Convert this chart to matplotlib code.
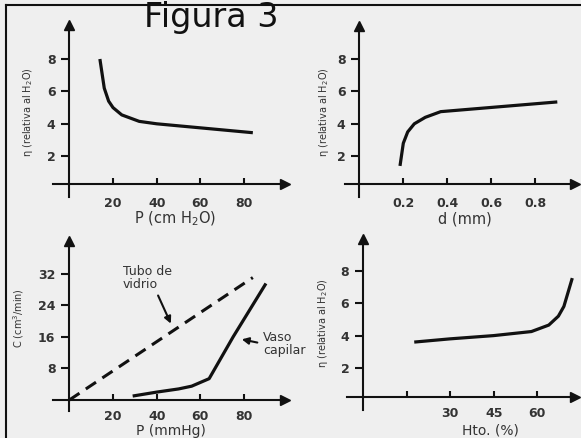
import matplotlib
matplotlib.use("Agg")
import matplotlib.pyplot as plt
from matplotlib.lines import Line2D

W, H = 581, 438
INK = "#111111"
TXT = "#333333"

# panel 1: viscosidad vs presion
p1_x = [14, 16, 18, 20, 24, 32, 40, 60, 84]
p1_y = [8.0, 6.2, 5.4, 5.0, 4.55, 4.15, 4.0, 3.75, 3.45]
p1_xticks = [20, 40, 60, 80]
p1_yticks = [2, 4, 6, 8]

# panel 2: viscosidad vs diametro
p2_x = [0.185, 0.2, 0.22, 0.25, 0.3, 0.37, 0.9]
p2_y = [1.4, 2.8, 3.5, 4.0, 4.4, 4.75, 5.35]
p2_xticks = [0.2, 0.4, 0.6, 0.8]
p2_yticks = [2, 4, 6, 8]

# panel 3: caudal vs presion
p3_tubo_x = [0, 84]
p3_tubo_y = [0, 31]
p3_vaso_x = [29, 40, 50, 56, 64, 75, 90]
p3_vaso_y = [1.0, 2.0, 2.8, 3.5, 5.4, 16, 29.5]
p3_xticks = [20, 40, 60, 80]
p3_yticks = [8, 16, 24, 32]

# panel 4: viscosidad vs hematocrito
p4_x = [17.6, 30, 45, 58, 64, 67.3, 69.2, 72.1]
p4_y = [3.6, 3.8, 4.0, 4.25, 4.65, 5.2, 5.8, 7.55]
p4_xticks = [15, 30, 45, 60]
p4_xticklabels = ["", "30", "45", "60"]
p4_yticks = [2, 4, 6, 8]

fig = plt.figure(figsize=(W / 100, H / 100), dpi=100)
fig.patch.set_facecolor("#efefef")


def px_lims(lo_px, hi_px, zero_px, scale, flip=False):
    if flip:
        return (zero_px - lo_px) / scale, (zero_px - hi_px) / scale
    return (lo_px - zero_px) / scale, (hi_px - zero_px) / scale


def make_panel(box, xmap, ymap, xaxis_at, xpad=9):
    """box = (left, top, right, bottom) in pixels, xmap/ymap = (zero_px, px per unit)."""
    l, t, r, b = box
    ax = fig.add_axes([l / W, 1 - b / H, (r - l) / W, (b - t) / H])
    ax.set_facecolor("none")
    ax.set_xlim(*px_lims(l, r, *xmap))
    ax.set_ylim(*px_lims(b, t, *ymap, flip=True))
    for s in ("top", "right"):
        ax.spines[s].set_visible(False)
    ax.spines["left"].set_position(("data", 0))
    ax.spines["bottom"].set_position(("data", xaxis_at))
    for s in ("left", "bottom"):
        ax.spines[s].set_linewidth(1.5)
        ax.spines[s].set_color(INK)
    ax.tick_params(axis="x", direction="in", length=4, width=1.5, pad=xpad,
                   colors=INK, labelcolor=TXT, labelsize=9)
    ax.tick_params(axis="y", direction="out", length=6, width=1.5, pad=4,
                   colors=INK, labelcolor=TXT, labelsize=9)
    x1 = ax.get_xlim()[1]
    y1 = ax.get_ylim()[1]
    ax.plot([x1], [xaxis_at], marker=">", ms=7, color=INK, clip_on=False)
    ax.plot([0], [y1], marker="^", ms=7, color=INK, clip_on=False)
    return ax


def bold_ticks(ax):
    for lab in ax.get_xticklabels() + ax.get_yticklabels():
        lab.set_fontweight("bold")


ax1 = make_panel((53, 25, 285, 197), (69.3, 2.185), (188.6, 16.2), 0.28)
ax1.plot(p1_x, p1_y, color=INK, lw=2.3, solid_capstyle="butt")
ax1.set_xticks(p1_xticks)
ax1.set_yticks(p1_yticks)
bold_ticks(ax1)

ax2 = make_panel((345, 26, 575, 197), (359.3, 220), (188.6, 16.2), 0.28)
ax2.plot(p2_x, p2_y, color=INK, lw=2.3, solid_capstyle="butt")
ax2.set_xticks(p2_xticks)
ax2.set_yticks(p2_yticks)
bold_ticks(ax2)

ax3 = make_panel((53, 241, 285, 411), (69.3, 2.185), (400, 3.95), 0, xpad=7.5)
ax3.plot(p3_tubo_x, p3_tubo_y, color=INK, lw=2.2, dashes=(4, 2.5))
ax3.plot(p3_vaso_x, p3_vaso_y, color=INK, lw=2.3, solid_capstyle="butt")
ax3.set_xticks(p3_xticks)
ax3.set_yticks(p3_yticks)
bold_ticks(ax3)
ax3.text(24.6, 30.8, "Tubo de\nvidrio", fontsize=9, color=TXT, ha="left",
         va="center", linespacing=1.0)
ax3.annotate("", xy=(47, 18.7), xytext=(40.1, 27.1),
             arrowprops=dict(arrowstyle="-|>", color=INK, lw=1.5, mutation_scale=10))
ax3.text(88.6, 14.3, "Vaso\ncapilar", fontsize=9, color=TXT, ha="left",
         va="center", linespacing=1.0, clip_on=False)
ax3.annotate("", xy=(77.7, 15.5), xytext=(87.3, 14.4),
             arrowprops=dict(arrowstyle="-|>", color=INK, lw=1.5, mutation_scale=10))

ax4 = make_panel((347, 239, 575, 410), (363.2, 2.9), (400.4, 16.2), 0.21, xpad=7.5)
ax4.plot(p4_x, p4_y, color=INK, lw=2.3, solid_capstyle="butt")
ax4.set_xticks(p4_xticks)
ax4.set_xticklabels(p4_xticklabels)
ax4.set_yticks(p4_yticks)
bold_ticks(ax4)


def ftext(x, y, s, **kw):
    fig.text(x / W, 1 - y / H, s, color=TXT, ha="center", va="center", **kw)


eta = "\u03b7 (relativa al H$_2$O)"
ftext(175, 219, "P (cm H$_2$O)", fontsize=10.5)
ftext(465, 219, "d (mm)", fontsize=10.5)
ftext(171, 431, "P (mmHg)", fontsize=10)
ftext(490, 431, "Hto. (%)", fontsize=10)
ftext(28, 112, eta, fontsize=7, rotation=90)
ftext(324, 112, eta, fontsize=7, rotation=90)
ftext(19, 318, "C (cm$^3$/min)", fontsize=7, rotation=90)
ftext(323, 323, eta, fontsize=7, rotation=90)

fig.text(211 / W, 1 - 27 / H, "Figura 3", fontsize=24, color=INK,
         ha="center", va="baseline")

# marco de la figura
fig.add_artist(Line2D([6 / W, 6 / W], [0, 1 - 5 / H], transform=fig.transFigure,
                      color=INK, lw=1.5))
fig.add_artist(Line2D([6 / W, 1], [1 - 5 / H, 1 - 5 / H], transform=fig.transFigure,
                      color=INK, lw=1.5))

fig.savefig("out.png", dpi=100, facecolor=fig.get_facecolor())
